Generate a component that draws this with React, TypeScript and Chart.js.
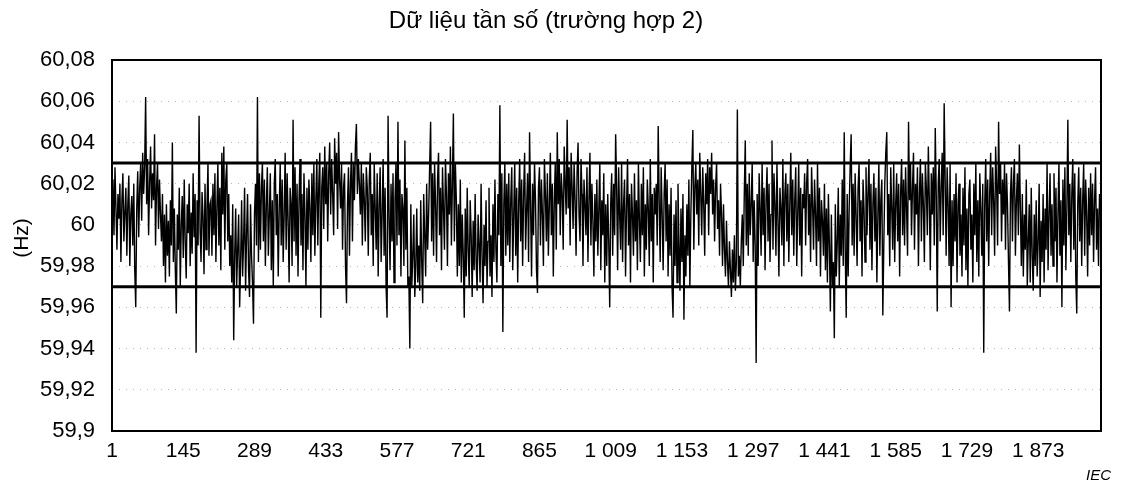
import React, { useEffect, useRef } from "react";
import { Chart, registerables } from "chart.js";

Chart.register(...registerables);

const chartTitle = "Dữ liệu tần số (trường hợp 2)";
const yAxisLabel = "(Hz)";
const sourceLabel = "IEC";

const firstSample = 1;
const lastSample = 2000;
const sampleStep = 2;
const nominalHz = 60;
const upperLimit = 60.03;
const lowerLimit = 59.97;

const yTickValues = [59.9, 59.92, 59.94, 59.96, 59.98, 60, 60.02, 60.04, 60.06, 60.08];
const yTickLabels = ["59,9", "59,92", "59,94", "59,96", "59,98", "60", "60,02", "60,04", "60,06", "60,08"];
const xTickValues = [1, 145, 289, 433, 577, 721, 865, 1009, 1153, 1297, 1441, 1585, 1729, 1873];
const xTickLabels = ["1", "145", "289", "433", "577", "721", "865", "1 009", "1 153", "1 297", "1 441", "1 585", "1 729", "1 873"];

// deviation from 60 Hz in mHz, read every second sample
const deviationMilliHz = [
  10, 22, -5, 28, 8, -12, 15, 3, 20, -18,
  12, 25, -8, 6, 18, -15, 10, 24, -20, 5,
  14, -10, 20, -22, -40, 8, 26, -6, 18, 30,
  2, 35, 15, 28, 62, 10, 32, -5, 20, 38,
  8, 25, 12, 44, -10, 18, 30, -2, 22, 5,
  -8, 15, -20, 5, -28, 10, -15, 2, -25, 12,
  -10, 40, -18, 8, -22, -43, 5, -12, 18, -30,
  0, 14, -16, 22, -8, -26, 10, -4, 20, -20,
  6, -14, 25, -6, 15, -62, 12, -10, 53, -2,
  -18, 16, 4, -24, 20, -12, 8, 30, -15, 10,
  12, -15, 20, -5, 25, -18, 8, 30, -10, 18,
  -22, 35, 5, 38, -12, 22, 30, -8, 15, -20,
  -5, -28, 10, -56, -15, 8, -30, -12, 5, -40,
  -18, 12, -25, -8, 18, -32, -5, 15, -22, -35,
  10, -15, -28, -48, 5, 20, -10, 62, -18, 25,
  -12, 18, 30, -8, 22, -20, 10, 28, -15, 5,
  25, -22, 12, -30, 20, 32, -5, 15, -25, 8,
  30, -10, 22, -18, 5, 35, -12, 25, 2, -28,
  18, 10, -20, 51, -8, 28, -15, 20, -25, 12,
  32, -10, 15, -22, 25, 5, -30, 18, -12, 22,
  8, -18, 25, -5, 30, -15, 12, 32, -10, 20,
  35, -45, 18, 28, -2, 38, 10, 30, -8, 25,
  40, 5, 32, 15, -5, 42, 20, 35, -2, 45,
  22, 8, 30, -12, 18, 25, -20, -38, 10, 28,
  -15, 20, 35, -8, 30, 12, 38, 49, 15, 32,
  20, 5, 30, -10, 25, 12, -8, 28, 18, -15,
  22, 35, -5, 15, -20, 30, 8, -12, 25, -25,
  10, 28, -18, 5, 32, -15, 18, -30, -45, 53,
  5, -22, 20, -8, 25, -28, 12, 30, -10, 50,
  -5, 22, -25, 15, 8, -20, 41, -12, 18, -30,
  -25, -60, 10, -30, -15, 5, -35, -20, 8, -28,
  -10, -32, 12, -18, -38, 15, -5, -25, 20, -12,
  5, 28, 50, -8, 25, -15, 30, 10, -18, 22,
  35, -5, 18, -22, 28, 8, -12, 32, 15, -20,
  25, 5, 38, -10, 20, 54, -8, 30, 12, -25,
  10, -20, 22, -28, 5, -15, -45, 8, -25, 18,
  -12, -30, 12, -5, -35, 2, -22, 15, -18, -32,
  5, -10, -28, 20, -15, -38, 0, -20, 12, -30,
  -8, 18, -25, -5, -35, 10, -18, 22, -12, -28,
  15, -5, 58, -20, 25, -52, 10, 30, -15, 20,
  -10, 25, -18, 12, 28, -22, 5, 30, -15, 18,
  -28, 10, 32, -8, 22, -20, 15, 35, -12, 8,
  25, -18, 45, 10, -25, 20, -5, 30, 12, -22,
  -33, 18, 28, -10, 22, 5, -20, 32, 15, -8,
  25, -15, 10, 35, -5, 20, -25, 12, 30, -12,
  45, 10, 32, -5, 25, 15, -12, 38, 20, 5,
  51, 8, 28, -10, 35, 18, -2, 30, 12, -15,
  25, 40, 5, -8, 32, 15, -20, 22, 10, -5,
  28, -18, 12, 35, -10, 20, 2, -25, 15, -8,
  22, -15, 8, 30, -22, 12, -5, 25, -28, 10,
  -20, 15, -8, -40, 10, 25, -15, 20, -5, 44,
  18, -22, 28, 5, -12, 30, -18, 10, 22, -25,
  8, 32, -10, 15, -28, 20, 5, -15, 25, -8,
  12, -22, 30, 2, -18, 20, -5, 28, -25, 10,
  -12, 22, 8, -20, 32, -8, 15, -28, 18, 5,
  20, -10, 48, 12, -18, 28, 5, -22, 15, 30,
  -8, 22, -25, 10, -15, 18, -30, -45, 5, -20,
  12, -28, 20, -10, -32, 8, -18, 15, -46, -5,
  -25, 10, -15, 22, -30, 5, 28, 46, -12, 18,
  30, 5, 22, -10, 35, 15, -5, 28, 10, -15,
  25, 10, 32, -5, 28, 15, 35, 5, 22, -8,
  18, 30, -2, 12, -15, 20, 5, -20, 10, -12,
  -25, 2, -18, -30, -8, -22, -35, -12, -28, -5,
  -32, -18, 56, -25, -15, -30, -8, 5, -20, 15,
  41, -10, 20, -15, 25, -5, 10, 30, -18, 12,
  -10, -67, 15, -20, 25, 8, -15, 30, -5, 18,
  -22, 12, 28, -8, 20, -18, 5, 41, -12, 25,
  10, -15, 30, 2, -25, 18, 8, -10, 32, -20,
  15, 25, -8, 20, -18, 10, 35, -5, 22, -15,
  12, 28, -20, 5, 30, -10, 18, -25, 15, 8,
  25, -10, 20, 32, -5, 15, -18, 28, 10, -12,
  22, 5, -20, 30, -8, 18, -25, 12, 2, -15,
  20, -22, 8, -28, 15, -10, -42, 5, -30, -18,
  -55, 10, -25, -8, 18, -30, 5, -15, 22, -20,
  45, -12, -45, 15, -25, 8, 28, 44, -10, 20,
  -15, 25, 5, -20, 18, 30, -8, 12, -25, 22,
  8, -18, 28, -5, 15, 32, -12, 20, -22, 10,
  25, -8, 18, -28, 5, 30, -15, 12, 22, -44,
  -10, 20, 35, 45, -5, 15, -20, 28, 8, -12,
  30, -18, 10, 25, -8, 20, -25, 15, 32, -5,
  22, -10, 28, 8, -15, 50, 12, 30, -5, 18,
  35, -12, 20, 5, 28, -20, 15, 32, -8, 25,
  10, -18, 30, 18, -5, 38, 12, -22, 25, 5,
  28, -10, 47, 15, -42, 20, 32, -8, 18, 35,
  -5, 59, 22, -15, 28, 10, -20, 30, -40, 12,
  -20, 15, -8, 25, -28, 10, 20, -15, 5, -25,
  18, -10, 28, -22, 8, -30, 15, 22, -12, 5,
  -28, 20, -5, 30, -18, 12, -25, 25, 8, -15,
  20, -62, 10, 32, -8, 22, -20, 15, 35, -5,
  28, 12, -15, 38, 20, -10, 50, 15, 30, -8,
  22, 5, 30, -12, 25, 10, -18, -42, 15, 28,
  -8, 20, 32, -15, 12, 25, -5, 39, 8, -20,
  15, -25, 5, -12, 22, -30, -8, 10, -28, 18,
  -15, -32, 5, -20, 12, -25, -8, 20, -35, 2,
  -18, 15, -28, 8, -12, 30, -22, 5, 25, -15,
  10, -20, 25, -8, 18, -28, 5, 30, -15, 12,
  -40, 22, -10, 28, -22, 8, 51, -5, 20, -18,
  15, 32, -12, 25, -25, -43, 10, 28, -8, 18,
  -20, 12, 30, -15, 22, 5, -25, 18, -10, 25,
  -5, 20, -18, 12, 28, -12, 8, -20, 15, 5,
];

const fontFamily = "'Liberation Sans', Arial, sans-serif";

const decorPlugin = {
  id: "decor",
  afterDatasetsDraw(chart: any) {
    const { ctx, chartArea: a } = chart;
    ctx.save();
    ctx.strokeStyle = "#000";
    ctx.lineWidth = 2;
    ctx.strokeRect(a.left, a.top, a.right - a.left, a.bottom - a.top);
    ctx.restore();
  },
  afterDraw(chart: any) {
    const { ctx } = chart;
    ctx.save();
    ctx.fillStyle = "#000";
    ctx.textAlign = "center";
    ctx.textBaseline = "middle";
    ctx.font = `24px ${fontFamily}`;
    ctx.fillText(chartTitle, 546, 21);
    ctx.save();
    ctx.translate(22, 238);
    ctx.rotate(-Math.PI / 2);
    ctx.font = `21px ${fontFamily}`;
    ctx.fillText(yAxisLabel, 0, 0);
    ctx.restore();
    ctx.font = `italic 15px ${fontFamily}`;
    ctx.textAlign = "right";
    ctx.fillText(sourceLabel, 1111, 476);
    ctx.restore();
  },
};

export default function App() {
  const canvasRef = useRef<HTMLCanvasElement | null>(null);

  useEffect(() => {
    if (!canvasRef.current) return;
    const series = deviationMilliHz.map((v, i) => ({
      x: firstSample + i * sampleStep,
      y: nominalHz + v / 1000,
    }));
    const chart = new Chart(canvasRef.current, {
      type: "line",
      data: {
        datasets: [
          {
            data: [
              { x: firstSample, y: upperLimit },
              { x: lastSample, y: upperLimit },
            ],
            borderColor: "#000",
            borderWidth: 3,
            pointRadius: 0,
            order: 0,
          },
          {
            data: [
              { x: firstSample, y: lowerLimit },
              { x: lastSample, y: lowerLimit },
            ],
            borderColor: "#000",
            borderWidth: 3,
            pointRadius: 0,
            order: 0,
          },
          {
            data: series,
            borderColor: "#000",
            borderWidth: 1.4,
            pointRadius: 0,
            tension: 0,
            order: 1,
          },
        ],
      },
      options: {
        responsive: false,
        animation: false,
        events: [],
        layout: { padding: { left: 0, top: 60, right: 25, bottom: 0 } },
        plugins: {
          legend: { display: false },
          title: { display: false },
          tooltip: { enabled: false },
        },
        scales: {
          x: {
            type: "linear",
            min: firstSample,
            max: lastSample,
            afterFit: (s: any) => {
              s.height = 55;
            },
            afterBuildTicks: (s: any) => {
              s.ticks = xTickValues.map((v) => ({ value: v }));
            },
            ticks: {
              autoSkip: false,
              maxRotation: 0,
              padding: 8,
              color: "#000",
              font: { family: fontFamily, size: 21 },
              callback: (_v: any, idx: number) => xTickLabels[idx],
            },
            grid: { display: false, drawTicks: false },
            border: { display: false },
          },
          y: {
            type: "linear",
            min: yTickValues[0],
            max: yTickValues[yTickValues.length - 1],
            afterFit: (s: any) => {
              s.width = 112;
            },
            afterBuildTicks: (s: any) => {
              s.ticks = yTickValues.map((v) => ({ value: v }));
            },
            ticks: {
              padding: 17,
              color: "#000",
              font: { family: fontFamily, size: 22 },
              callback: (_v: any, idx: number) => yTickLabels[idx],
            },
            grid: {
              color: "rgba(0,0,0,0.28)",
              drawTicks: false,
            },
            border: { display: false, dash: [1, 6] },
          },
        },
      },
      plugins: [decorPlugin],
    } as any);
    return () => chart.destroy();
  }, []);

  return (
    <canvas
      ref={canvasRef}
      width={1126}
      height={486}
      style={{ position: "absolute", left: 0, top: 0, width: 1126, height: 486 }}
    />
  );
}
